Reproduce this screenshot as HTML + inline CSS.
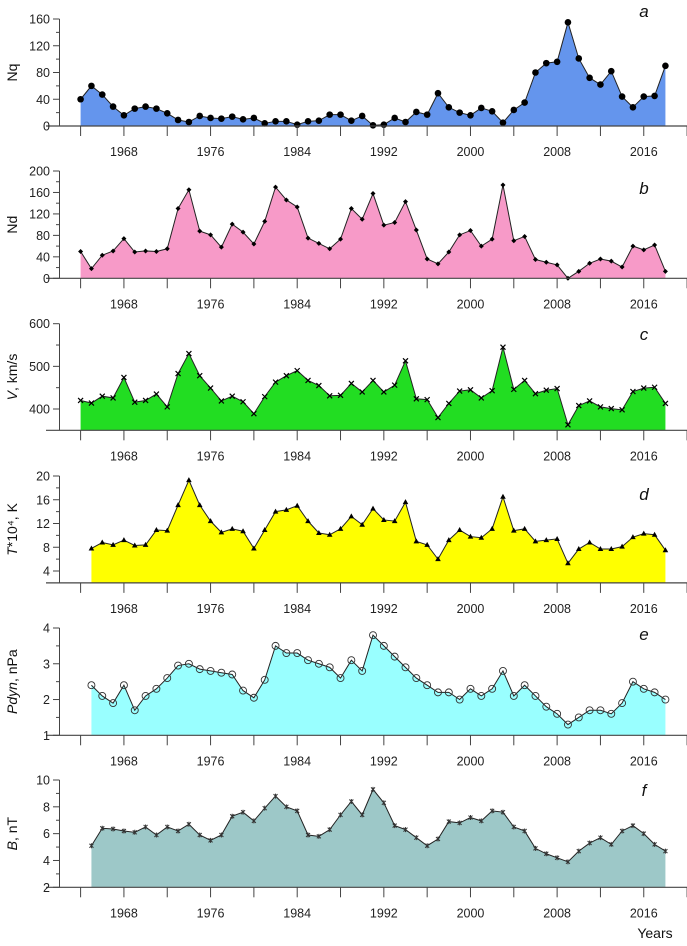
<!DOCTYPE html>
<html><head><meta charset="utf-8">
<style>
html,body{margin:0;padding:0;background:#fff;}
svg{display:block;font-family:"Liberation Sans",Arial,sans-serif;}
</style></head>
<body>
<svg id="chart" width="687" height="946" viewBox="0 0 687 946" xmlns="http://www.w3.org/2000/svg"></svg>
<script>
const yearsA = [];for(let y=1964;y<=2018;y++)yearsA.push(y);
const yearsB = [];for(let y=1965;y<=2018;y++)yearsB.push(y);
const xTickYears = [1964,1968,1972,1976,1980,1984,1988,1992,1996,2000,2004,2008,2012,2016,2020];
const xLabelYears = [1968,1976,1984,1992,2000,2008,2016];
const nqValues = [40,60,47,29,16,26,29,26,19,9,6,15,12,11,14,10,12,4,7,7,2,7,8,17,17,8,15,1,2,12,6,21,17,49,28,20,16,27,22,5,24,35,80,94,96,155,101,72,62,82,44,28,44,45,90];
const ndValues = [50,18,43,51,74,49,51,50,55,130,165,88,81,58,101,86,64,106,170,146,133,75,65,55,73,130,110,158,99,104,143,90,36,27,49,81,89,60,73,174,70,78,35,30,25,0,13,28,36,32,21,60,53,62,13];
const vValues = [420,414,430,426,474,416,420,435,405,483,530,478,449,419,430,417,389,429,463,478,490,467,455,431,432,460,440,467,440,456,513,424,422,380,413,442,445,426,443,545,446,467,436,444,448,363,408,419,405,401,398,441,449,451,413];
const tValues = [7.8,8.8,8.4,9.2,8.3,8.4,10.9,10.8,15.1,19.3,15.1,12.4,10.5,11.1,10.7,7.8,10.9,14.0,14.3,15.0,12.4,10.4,10.1,11.1,13.2,11.8,14.5,12.6,12.4,15.6,9.0,8.4,6.0,9.2,10.9,9.8,9.6,11.1,16.5,10.8,11.1,9.0,9.2,9.4,5.3,7.7,8.8,7.7,7.7,8.1,9.7,10.3,10.1,7.5];
const pValues = [2.4,2.1,1.9,2.4,1.7,2.1,2.3,2.6,2.95,3.0,2.85,2.8,2.75,2.7,2.25,2.05,2.55,3.5,3.3,3.3,3.1,3.0,2.9,2.6,3.1,2.8,3.8,3.5,3.2,2.9,2.6,2.4,2.2,2.2,2.0,2.3,2.1,2.3,2.8,2.1,2.4,2.1,1.8,1.6,1.3,1.5,1.7,1.7,1.6,1.9,2.5,2.3,2.2,2.0];
const bValues = [5.1,6.4,6.35,6.2,6.1,6.5,5.9,6.5,6.2,6.7,5.9,5.5,5.9,7.3,7.6,6.95,7.9,8.8,8.0,7.7,5.9,5.8,6.3,7.4,8.4,7.4,9.3,8.3,6.6,6.3,5.7,5.1,5.6,6.9,6.8,7.2,6.95,7.7,7.6,6.5,6.2,4.9,4.5,4.2,3.9,4.7,5.3,5.7,5.2,6.2,6.6,6.0,5.2,4.7];
const ticksA=[0,40,80,120,160], ticksB=[0,40,80,120,160,200], ticksC=[400,500,600], ticksD=[4,8,12,16,20], ticksE=[1,2,3,4], ticksF=[2,4,6,8,10];

const NS="http://www.w3.org/2000/svg";
const svg=document.getElementById('chart');
function mk(tag,attrs,parent){const e=document.createElementNS(NS,tag);for(const k in attrs)e.setAttribute(k,attrs[k]);(parent||svg).appendChild(e);return e;}
const xScale=y=>80.6+(y-1964)*10.83;

const panels=[
 {id:'a',label:'Nq',italic:false,years:yearsA,vals:nqValues,ticks:ticksA,minor:20,vmin:0,vmax:160,ytop:19,ybot:126,axisVal:0,color:'#6495ED',marker:'dot',letterY:17},
 {id:'b',label:'Nd',italic:false,years:yearsA,vals:ndValues,ticks:ticksB,minor:20,vmin:0,vmax:200,ytop:171,ybot:278.3,axisVal:0,color:'#F79AC8',marker:'diamond',letterY:194},
 {id:'c',label:'V, km/s',italic:true,years:yearsA,vals:vValues,ticks:ticksC,minor:50,vmin:400,vmax:600,ytop:323.7,ybot:409,axisVal:350,color:'#22DD22',marker:'cross',letterY:340},
 {id:'d',label:'T*10⁴, K',italic:true,years:yearsB,vals:tValues,ticks:ticksD,minor:2,vmin:4,vmax:20,ytop:476,ybot:571,axisVal:2,color:'#FFFF00',marker:'tri',letterY:500},
 {id:'e',label:'Pdyn, nPa',italic:true,years:yearsB,vals:pValues,ticks:ticksE,minor:0.5,vmin:1,vmax:4,ytop:628,ybot:735.3,axisVal:1,color:'#99FFFF',marker:'circle',letterY:640},
 {id:'f',label:'B, nT',italic:true,years:yearsB,vals:bValues,ticks:ticksF,minor:1,vmin:2,vmax:10,ytop:780,ybot:887.3,axisVal:2,color:'#9DC8C8',marker:'star',letterY:796}
];

panels.forEach(p=>{
  const g=mk('g',{});
  
  
  const ys=v=>p.ybot-(v-p.vmin)/(p.vmax-p.vmin)*(p.ybot-p.ytop);
  const yAxis=ys(p.axisVal);
  // area
  let d='M'+xScale(p.years[0])+','+yAxis;
  p.vals.forEach((v,i)=>{d+=' L'+xScale(p.years[i])+','+ys(v);});
  d+=' L'+xScale(p.years[p.years.length-1])+','+yAxis+' Z';
  const area=mk('path',{d:d,fill:p.color,stroke:'none'},g);
  
  
  let ld='';
  p.vals.forEach((v,i)=>{ld+=(i?' L':'M')+xScale(p.years[i])+','+ys(v);});
  const line=mk('path',{d:ld,fill:'none',stroke:'#222','stroke-width':1},g);
  
  
  // markers
  p.vals.forEach((v,i)=>{
    const x=xScale(p.years[i]),y=ys(v);let m;
    if(p.marker==='dot')m=mk('circle',{cx:x,cy:y,r:3.3,fill:'#000'},g);
    else if(p.marker==='diamond')m=mk('path',{d:`M${x},${y-2.5} L${x+2.5},${y} L${x},${y+2.5} L${x-2.5},${y} Z`,fill:'#000'},g);
    else if(p.marker==='cross')m=mk('path',{d:`M${x-2.5},${y-2.5} L${x+2.5},${y+2.5} M${x-2.5},${y+2.5} L${x+2.5},${y-2.5}`,stroke:'#000','stroke-width':1.2},g);
    else if(p.marker==='tri')m=mk('path',{d:`M${x},${y-3} L${x+2.8},${y+2} L${x-2.8},${y+2} Z`,fill:'#000'},g);
    else if(p.marker==='circle')m=mk('circle',{cx:x,cy:y,r:3.5,fill:'none',stroke:'#333','stroke-width':0.9},g);
    else m=mk('path',{d:`M${x-2},${y-2} L${x+2},${y+2} M${x-2},${y+2} L${x+2},${y-2} M${x},${y-2.5} L${x},${y+2.5}`,stroke:'#333','stroke-width':1},g);
    
    
  });
  // axes
  const ya=mk('line',{x1:59.5,y1:p.ytop,x2:59.5,y2:yAxis,stroke:'#444','stroke-width':1},g);
  
  
  const xa=mk('line',{x1:46,y1:yAxis,x2:687,y2:yAxis,stroke:'#444','stroke-width':1.2},g);
  
  
  for(let v=p.vmin;v<=p.vmax+1e-9;v+=p.minor){
    const isMaj=p.ticks.some(t=>Math.abs(t-v)<1e-9);
    mk('line',{x1:isMaj?53:56,y1:ys(v),x2:59.5,y2:ys(v),stroke:'#444','stroke-width':1},g);
  }
  p.ticks.forEach(t=>{
    const tx=mk('text',{x:50,y:ys(t)+4.5,'text-anchor':'end','font-size':12.5,fill:'#222'},g);
    tx.textContent=t;
    
    
  });
  xTickYears.forEach(yr=>{mk('line',{x1:xScale(yr),y1:yAxis,x2:xScale(yr),y2:yAxis+10,stroke:'#444','stroke-width':1},g);});
  xLabelYears.forEach(yr=>{
    const tx=mk('text',{x:xScale(yr),y:yAxis+30,'text-anchor':'middle','font-size':12.5,fill:'#222'},g);
    tx.textContent=yr;
    
    
  });
  const lt=mk('text',{x:644,y:p.letterY,'text-anchor':'middle','font-size':17,'font-style':'italic',fill:'#111'},g);
  lt.textContent=p.id;
  
  
  const cy=(p.ytop+yAxis)/2;
  const yl=mk('text',{x:0,y:0,transform:`translate(17,${cy}) rotate(-90)`,'text-anchor':'middle','font-size':14,fill:'#111'},g);
  if(p.italic){
    const parts={'c':['V',', km/s'],'d':['T','*10⁴, K'],'e':['Pdyn',', nPa'],'f':['B',', nT']}[p.id];
    const s1=mk('tspan',{'font-style':'italic'},yl);s1.textContent=parts[0];
    const s2=mk('tspan',{},yl);s2.textContent=parts[1];
  } else yl.textContent=p.label;
  
  
});
const yt=mk('text',{x:655,y:938,'text-anchor':'middle','font-size':14,fill:'#111'});
yt.textContent='Years';


</script>
</body></html>
